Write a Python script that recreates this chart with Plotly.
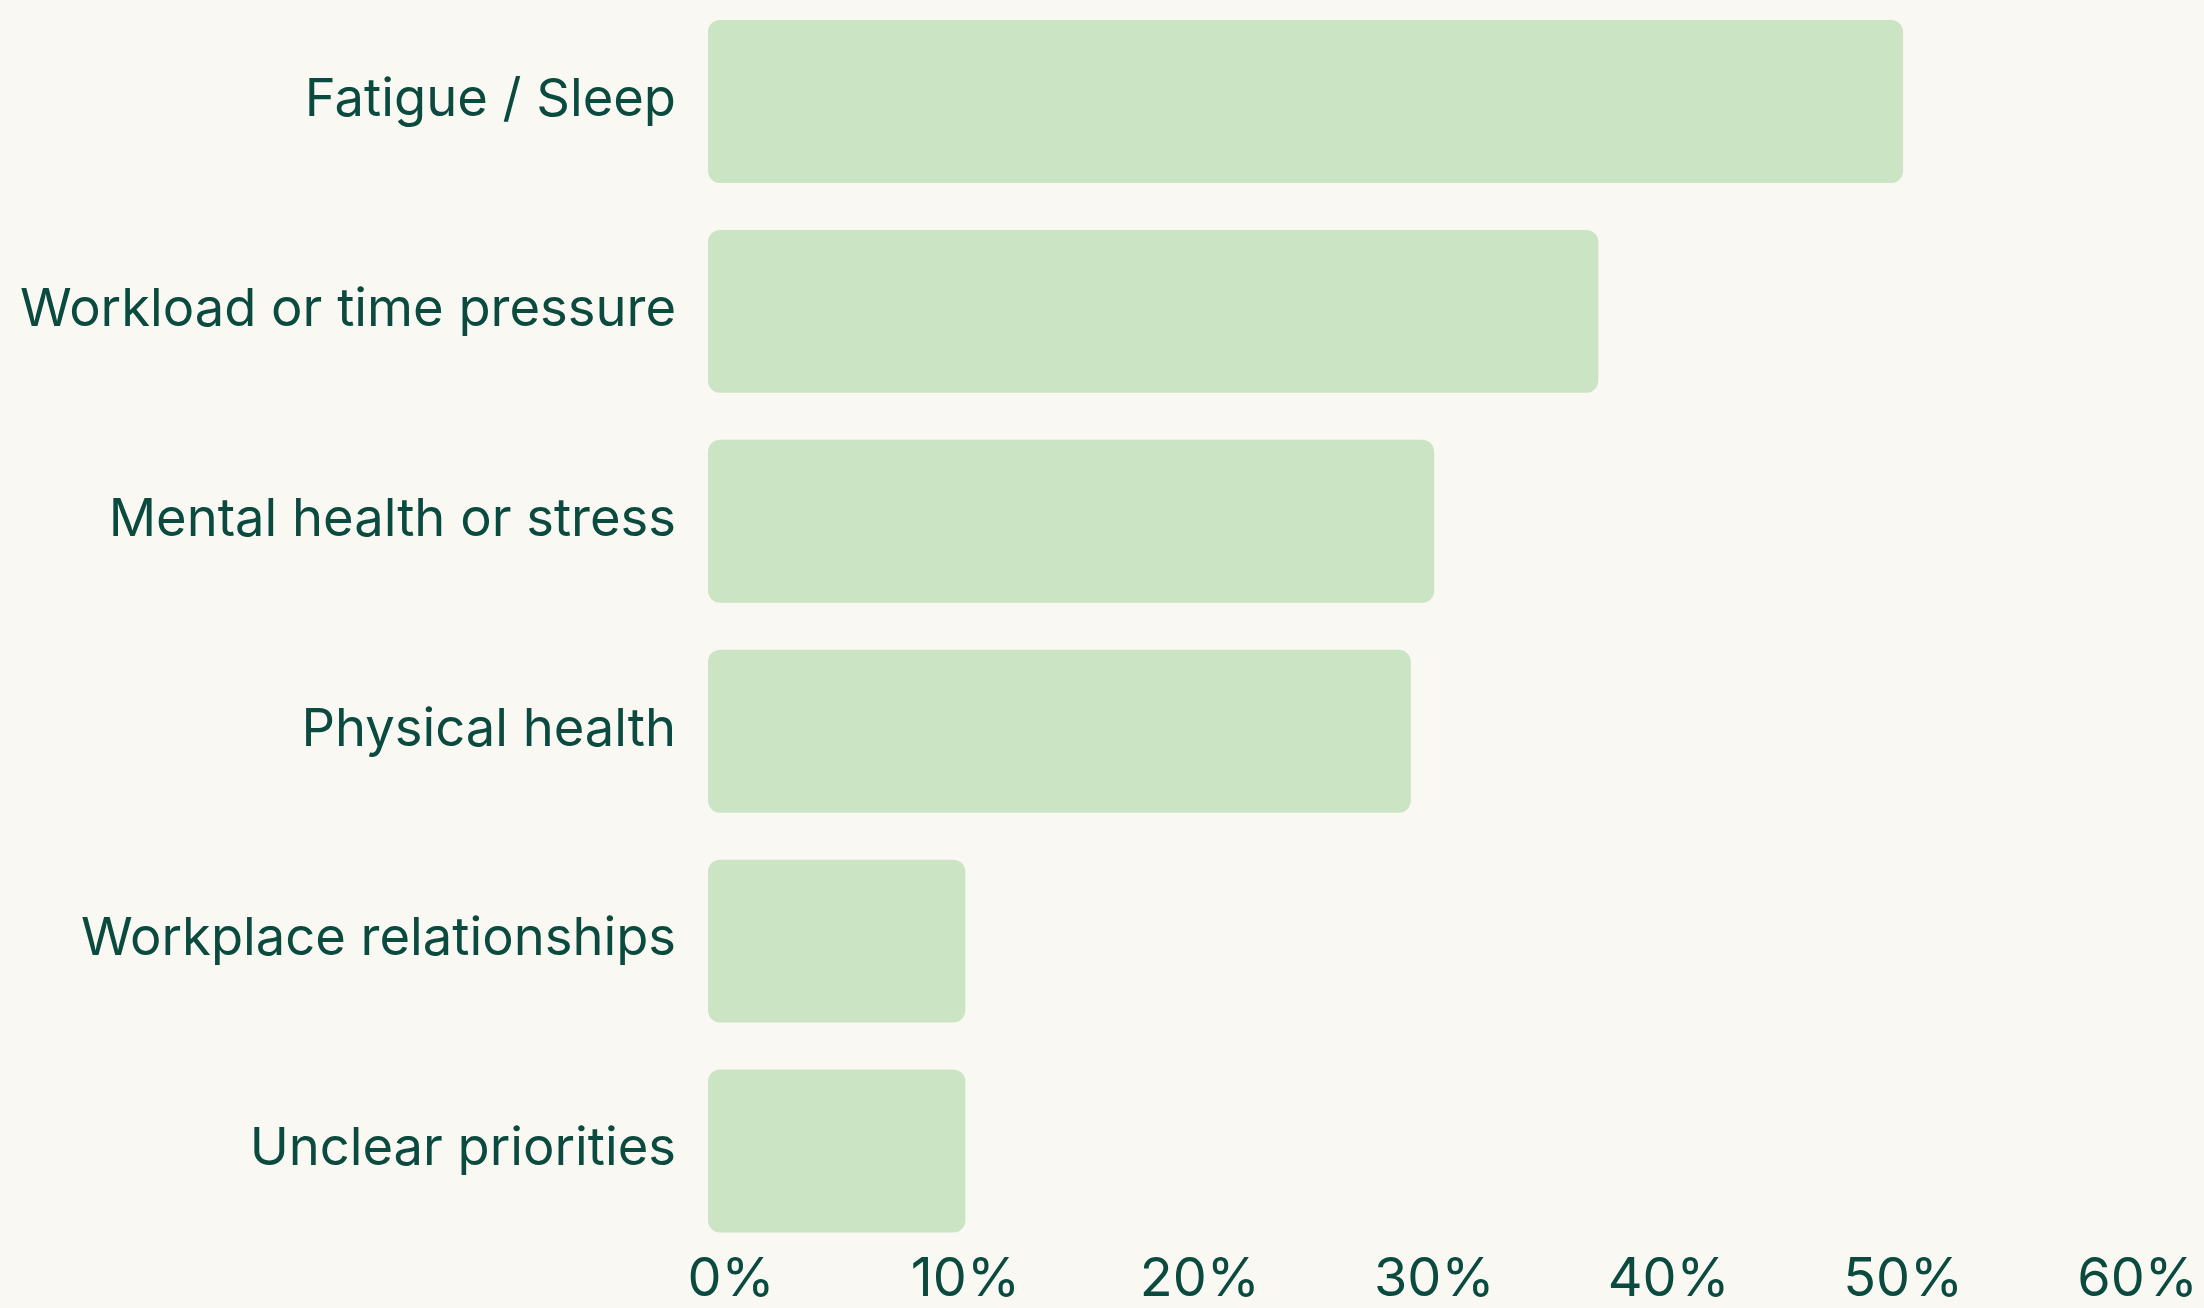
import plotly.graph_objects as go

categories = [
    "Fatigue / Sleep",
    "Workload or time pressure",
    "Mental health or stress",
    "Physical health",
    "Workplace relationships",
    "Unclear priorities",
]
values = [50, 37, 30, 29, 10, 10]
tick_vals = [0, 10, 20, 30, 40, 50, 60]
tick_text = ["0%", "10%", "20%", "30%", "40%", "50%", "60%"]

BG = "#f9f8f2"
BAR = "#cbe4c3"
TEXT = "#0b4a3e"
FONT = "Inter"
LEFT_PAD = 0.98  # bars extend slightly left of the zero line

fig = go.Figure(
    go.Bar(
        y=categories,
        x=[v + LEFT_PAD for v in values],
        base=-LEFT_PAD,
        orientation="h",
        marker=dict(color=BAR, line=dict(width=0)),
        width=0.776,
        hoverinfo="skip",
    )
)

fig.update_layout(
    width=2204,
    height=1308,
    paper_bgcolor=BG,
    plot_bgcolor=BG,
    margin=dict(l=708, r=44, t=0, b=52),
    barcornerradius=12,
    showlegend=False,
    font=dict(family=FONT, color=TEXT),
)
fig.update_xaxes(
    range=[-LEFT_PAD, 60.96],
    tickvals=tick_vals,
    ticktext=tick_text,
    showgrid=False,
    zeroline=False,
    showline=False,
    ticks="",
    automargin=False,
    ticklabelstandoff=-15,
    tickfont=dict(family=FONT, size=54, color=TEXT),
)
fig.update_yaxes(
    categoryorder="array",
    categoryarray=categories,
    range=[5.5, -0.4833],
    showgrid=False,
    zeroline=False,
    showline=False,
    ticks="",
    automargin=False,
    ticklabelstandoff=31,
    ticklabelshift=4,
    tickfont=dict(family=FONT, size=52.5, color=TEXT),
)

fig.write_html(
    "out.html",
    config={"displayModeBar": False},
    post_script="document.body.style.margin='0';document.body.style.background='%s';" % BG,
)
